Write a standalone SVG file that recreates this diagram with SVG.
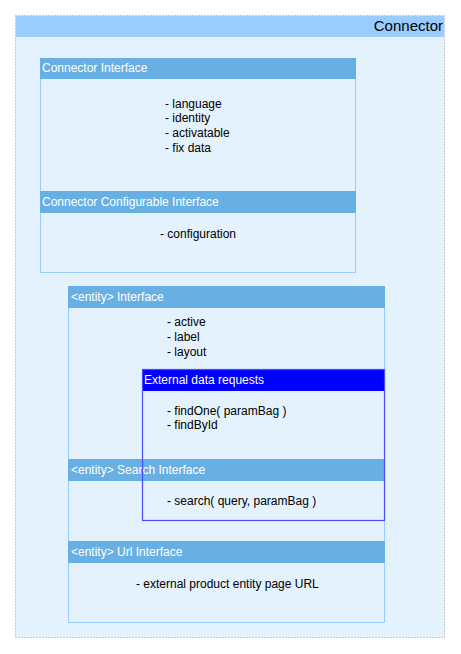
<svg xmlns="http://www.w3.org/2000/svg" width="461" height="654" viewBox="0 0 461 654">
<style>
text{font-family:"Liberation Sans",Arial,sans-serif}
.hd{fill:#ffffff;font-size:12px}
.tx{fill:#000000;font-size:12px}
.box{fill:#e3f2fd;stroke:#99ccff;stroke-width:1}
.hdr{fill:#68b0e4}
</style>
<rect width="461" height="654" fill="#ffffff"/>
<g id="connector">
<rect x="15.5" y="15.5" width="429" height="622" fill="#e3f2fd" stroke="#8f9fb0" stroke-width="1" stroke-dasharray="1 2"/>
<rect x="16" y="16" width="428" height="21" fill="#99ccff"/>
<text x="443" y="31" font-size="15" text-anchor="end" fill="#000">Connector</text>
</g>
<g id="connector-interface">
<rect class="box" x="40.5" y="58.5" width="315" height="214"/>
<rect class="hdr" x="40" y="58" width="316" height="21"/>
<text class="hd" x="42" y="72">Connector Interface</text>
<text class="tx" x="165" y="108">- language</text>
<text class="tx" x="165" y="122">- identity</text>
<text class="tx" x="165" y="137">- activatable</text>
<text class="tx" x="165" y="152">- fix data</text>
<rect class="hdr" x="40" y="191" width="316" height="22"/>
<text class="hd" x="42" y="206">Connector Configurable Interface</text>
<text class="tx" x="160" y="238">- configuration</text>
</g>
<g id="entity-interface">
<rect class="box" x="68.5" y="286.5" width="316" height="336"/>
<rect class="hdr" x="68" y="286" width="317" height="22"/>
<text class="hd" x="71" y="301">&lt;entity&gt; Interface</text>
<text class="tx" x="167" y="326">- active</text>
<text class="tx" x="167" y="341">- label</text>
<text class="tx" x="167" y="356">- layout</text>
<rect class="hdr" x="68" y="459" width="317" height="22"/>
<text class="hd" x="71" y="474">&lt;entity&gt; Search Interface</text>
<text class="tx" x="167" y="505">- search( query, paramBag )</text>
<rect class="hdr" x="68" y="541" width="317" height="22"/>
<text class="hd" x="71" y="556">&lt;entity&gt; Url Interface</text>
<text class="tx" x="136" y="588">- external product entity page URL</text>
</g>
<g id="external-data-requests">
<rect x="142" y="369" width="243" height="22" fill="#0000ff"/>
<text class="hd" x="144" y="384">External data requests</text>
<rect x="142.5" y="369.5" width="242" height="151" fill="none" stroke="#4b4bff" stroke-width="1.2"/>
<text class="tx" x="167" y="415">- findOne( paramBag )</text>
<text class="tx" x="167" y="429">- findById</text>
</g>
<g id="connectors"></g>
</svg>
